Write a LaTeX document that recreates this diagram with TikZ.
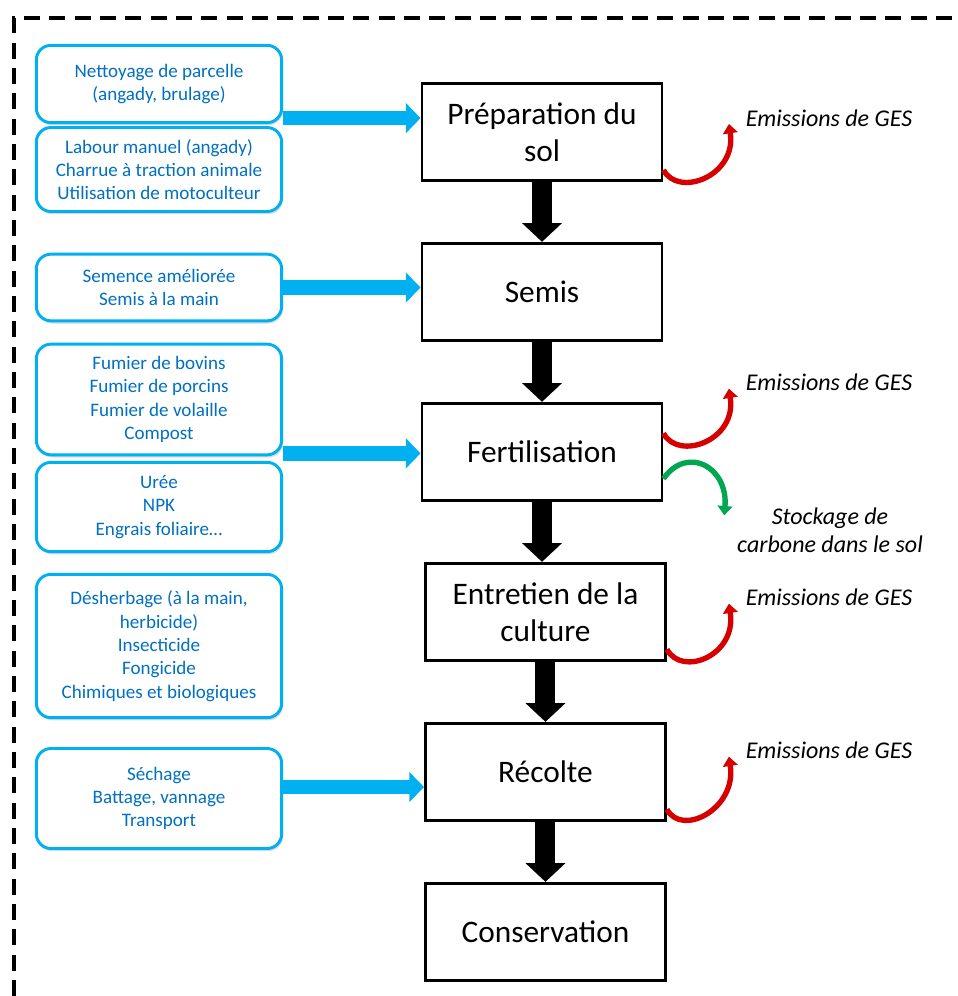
\documentclass[tikz,border=0pt]{standalone}
\usepackage{fontspec}
\setmainfont{Carlito}
\usetikzlibrary{arrows.meta,shadows}
\definecolor{boxblue}{RGB}{0,176,240}
\definecolor{textblue}{RGB}{0,112,192}
\definecolor{gesred}{RGB}{215,0,0}
\definecolor{stockgreen}{RGB}{0,166,80}

\begin{document}
\begin{tikzpicture}[x=0.75pt,y=-0.75pt,node distance=120pt]
  \tikzstyle{stage}=[rectangle,draw=black,line width=2.2pt,minimum width=180pt,minimum height=73pt,align=center,font=\fontsize{23.5}{28}\selectfont]
  \tikzstyle{practice}=[rectangle,rounded corners=11pt,draw=boxblue,line width=2.2pt,fill=white,minimum width=184pt,align=center,text=textblue,font=\fontsize{14.3}{17.5}\selectfont,drop shadow={shadow xshift=1pt,shadow yshift=-2pt,opacity=0.3}]
  \tikzstyle{gestext}=[inner sep=2pt,align=center,font=\fontsize{18}{21}\selectfont\itshape]
  \tikzstyle{inarrow}=[draw=boxblue,line width=11pt,-{Triangle[length=11pt,width=22pt]}]
  \tikzstyle{nextarrow}=[draw=black,line width=15pt,-{Triangle[length=14pt,width=29pt]}]
  \tikzstyle{emit}=[draw=gesred,line width=4pt,-{Triangle[length=7pt,width=11pt]}]
  \tikzstyle{store}=[draw=stockgreen,line width=4pt,-{Triangle[length=7pt,width=11pt]}]

  \useasboundingbox (0,0) rectangle (957,996);
  % frame
  \draw[line width=3pt,dash pattern=on 12pt off 7pt] (14,996) -- (14,18) -- (957,18);

  % stages
  \node[stage] (prep) at (542,132) {Préparation du\\sol};
  \node[stage, below of=prep] (semis) {Semis};
  \node[stage, below of=semis] (fert) {Fertilisation};
  \node[stage, below of=fert, xshift=2.6pt] (entr) {Entretien de la\\culture};
  \node[stage, below of=entr] (rec) {Récolte};
  \node[stage, below of=rec] (cons) {Conservation};

  % practices
  \node[practice, minimum height=58pt] (nett) at (159,84) {Nettoyage de parcelle\\(angady, brulage)};
  \node[practice, minimum height=63pt] (lab) at (159,169.5) {Labour manuel (angady)\\Charrue à traction animale\\Utilisation de motoculteur};
  \node[practice, minimum height=50pt] (seme) at (159,287.5) {Semence améliorée\\Semis à la main};
  \node[practice, minimum height=83pt] (fum) at (159,399.5) {Fumier de bovins\\Fumier de porcins\\Fumier de volaille\\Compost};
  \node[practice, minimum height=67pt] (uree) at (159,507) {Urée\\NPK\\Engrais foliaire…};
  \node[practice, minimum height=107.5pt] (desh) at (159,646) {Désherbage (à la main,\\herbicide)\\Insecticide\\Fongicide\\Chimiques et biologiques};
  \node[practice, minimum height=75pt] (sech) at (159,798.5) {Séchage\\Battage, vannage\\Transport};

  % outputs
  \node[gestext] (ges1) at (829,118) {Emissions de GES};
  \node[gestext] (ges2) at (829,382) {Emissions de GES};
  \node[gestext] (stock) at (830,530) {Stockage de\\carbone dans le sol};
  \node[gestext] (ges3) at (829,597) {Emissions de GES};
  \node[gestext] (ges4) at (829,750) {Emissions de GES};

  % inputs
  \draw[inarrow] ([yshift=4.5pt]nett.south east) -- ([yshift=4.5pt]nett.south east -| prep.west);
  \draw[inarrow] (seme.east) -- (seme.east -| semis.west);
  \draw[inarrow] ([yshift=2.2pt]fum.south east) -- ([yshift=2.2pt]fum.south east -| fert.west);
  \draw[inarrow] ([yshift=8.6pt]sech.east) -- ([yshift=8.6pt]sech.east -| rec.west);

  % chain
  \draw[nextarrow] (prep.south) -- (prep.south |- semis.north);
  \draw[nextarrow] (semis.south) -- (semis.south |- fert.north);
  \draw[nextarrow] (fert.south) -- (fert.south |- entr.north);
  \draw[nextarrow] (entr.south) -- (entr.south |- rec.north);
  \draw[nextarrow] (rec.south) -- (rec.south |- cons.north);

  % emissions and storage
  \draw[emit] ([yshift=-28.5pt]prep.east) .. controls +(15,28) and +(8,52) .. ([xshift=-10.5pt,yshift=-4.5pt]ges1.west);
  \draw[emit] ([yshift=14pt]fert.east) .. controls +(15,28) and +(8,52) .. ([xshift=-10.5pt,yshift=-5pt]ges2.west);
  \draw[store] ([yshift=-20pt]fert.east) .. controls +(24,-34) and +(4,-48) .. ([xshift=-7.5pt,yshift=11pt]stock.west);
  \draw[emit] ([yshift=-28pt]entr.east) .. controls +(15,28) and +(8,52) .. ([xshift=-10.5pt,yshift=-5pt]ges3.west);
  \draw[emit] ([yshift=-28pt]rec.east) .. controls +(15,28) and +(8,52) .. ([xshift=-10.5pt,yshift=-5pt]ges4.west);
\end{tikzpicture}
\end{document}
